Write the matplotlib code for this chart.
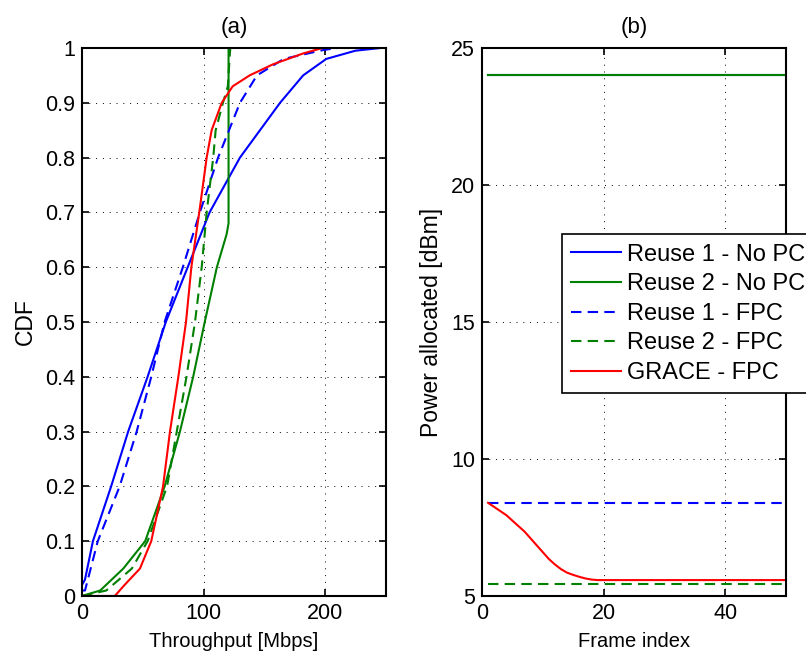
import numpy as np
import matplotlib
matplotlib.use('Agg')
from matplotlib import pyplot as plt

plt.rcParams['font.family'] = ['Liberation Sans', 'DejaVu Sans']
plt.rcParams['font.size'] = 15

# (a) CDF of throughput: throughput [Mbps], CDF
r1_nopc_x = [0, 2.5, 9, 24, 38, 54, 69, 87, 105, 130, 163, 182, 201, 225, 246]
r1_nopc_y = [0.02, 0.03, 0.1, 0.2, 0.3, 0.4, 0.5, 0.6, 0.7, 0.8, 0.9, 0.95, 0.98, 0.995, 1.0]
r2_nopc_x = [0, 15, 34, 52, 68, 80.6, 91.5, 101, 111, 119, 120.6, 120.6]
r2_nopc_y = [0, 0.01, 0.05, 0.1, 0.2, 0.3, 0.4, 0.5, 0.6, 0.66, 0.68, 1.0]
r1_fpc_x = [0, 2.5, 13, 31, 45, 57, 68, 83, 97, 112, 130, 144, 166, 198, 210]
r1_fpc_y = [0.01, 0.01, 0.1, 0.2, 0.3, 0.4, 0.5, 0.6, 0.7, 0.8, 0.9, 0.95, 0.98, 0.996, 1.0]
r2_fpc_x = [0, 20, 41, 54, 70, 78, 86, 93, 98.5, 102.6, 108, 110, 116, 120, 122]
r2_fpc_y = [0, 0.01, 0.05, 0.1, 0.2, 0.3, 0.4, 0.5, 0.6, 0.7, 0.8, 0.85, 0.9, 0.93, 1.0]
grace_x = [0, 27, 35, 47.7, 57, 66.7, 72.4, 79.3, 85.6, 90, 96.5, 102.6, 106.7, 115, 124, 138, 157, 182, 198]
grace_y = [0, 0, 0.02, 0.05, 0.1, 0.2, 0.3, 0.4, 0.5, 0.6, 0.7, 0.8, 0.85, 0.9, 0.93, 0.95, 0.97, 0.99, 1.0]

# (b) power per frame [dBm]
frames = np.arange(1, 51)
p_r1_nopc = [24.0] * 50
p_r2_nopc = [24.0] * 50
p_r1_fpc = [8.4] * 50
p_r2_fpc = [5.45] * 50
p_grace = [8.4, 8.25, 8.1, 7.95, 7.75, 7.55, 7.35, 7.1, 6.85, 6.6,
           6.35, 6.15, 5.98, 5.85, 5.77, 5.7, 5.64, 5.6] + [5.58] * 32

labels = ['Reuse 1 - No PC', 'Reuse 2 - No PC', 'Reuse 1 - FPC',
          'Reuse 2 - FPC', 'GRACE - FPC']
blue, green, red = '#0000ff', '#008000', '#ff0000'
lw = 1.5
dash = (0, (5, 3))

fig = plt.figure(figsize=(8.06, 6.56), dpi=100)
ax1 = fig.add_axes([0.1017, 0.0915, 0.377, 0.8354])
ax2 = fig.add_axes([0.598, 0.0915, 0.377, 0.8354])


def matlab_style(ax):
    ax.grid(True, linestyle=(0, (1, 6)), color='k', linewidth=0.7)
    ax.tick_params(direction='in', top=True, right=True, length=5, width=1.2,
                   labelsize=15.5, pad=5)
    for s in ax.spines.values():
        s.set_linewidth(1.5)


ax1.plot(r1_nopc_x, r1_nopc_y, color=blue, lw=lw)
ax1.plot(r2_nopc_x, r2_nopc_y, color=green, lw=lw)
ax1.plot(r1_fpc_x, r1_fpc_y, color=blue, lw=lw, ls=dash)
ax1.plot(r2_fpc_x, r2_fpc_y, color=green, lw=lw, ls=dash)
ax1.plot(grace_x, grace_y, color=red, lw=lw)
ax1.set_xlim(0, 250)
ax1.set_ylim(0, 1)
ax1.set_xticks([0, 100, 200])
ax1.set_yticks(np.arange(0, 1.01, 0.1))
ax1.set_yticklabels(['0', '0.1', '0.2', '0.3', '0.4', '0.5', '0.6', '0.7', '0.8', '0.9', '1'])
ax1.set_xlabel('Throughput [Mbps]', fontsize=14.5, labelpad=6)
ax1.set_ylabel('CDF', fontsize=16.5, labelpad=6)
ax1.set_title('(a)', fontsize=16, pad=11)
matlab_style(ax1)

ax2.plot(frames, p_r1_nopc, color=blue, lw=lw, label=labels[0])
ax2.plot(frames, p_r2_nopc, color=green, lw=lw, label=labels[1])
ax2.plot(frames, p_r1_fpc, color=blue, lw=lw, ls=dash, label=labels[2])
ax2.plot(frames, p_r2_fpc, color=green, lw=lw, ls=dash, label=labels[3])
ax2.plot(frames, p_grace, color=red, lw=lw, label=labels[4])
ax2.set_xlim(0, 50)
ax2.set_ylim(5, 25)
ax2.set_xticks([0, 20, 40])
ax2.set_yticks([5, 10, 15, 20, 25])
ax2.set_xlabel('Frame index', fontsize=14.5, labelpad=6)
ax2.set_ylabel('Power allocated [dBm]', fontsize=16.5, labelpad=6)
ax2.set_title('(b)', fontsize=16, pad=11)
matlab_style(ax2)

leg = ax2.legend(loc='upper left', bbox_to_anchor=(0.263, 0.66), fancybox=False,
                 framealpha=1, edgecolor='k', handlelength=2.1, handletextpad=0.25,
                 labelspacing=0.32, borderpad=0.4, borderaxespad=0, fontsize=17)
leg.get_frame().set_linewidth(1.2)

fig.savefig('out.png', dpi=100)
